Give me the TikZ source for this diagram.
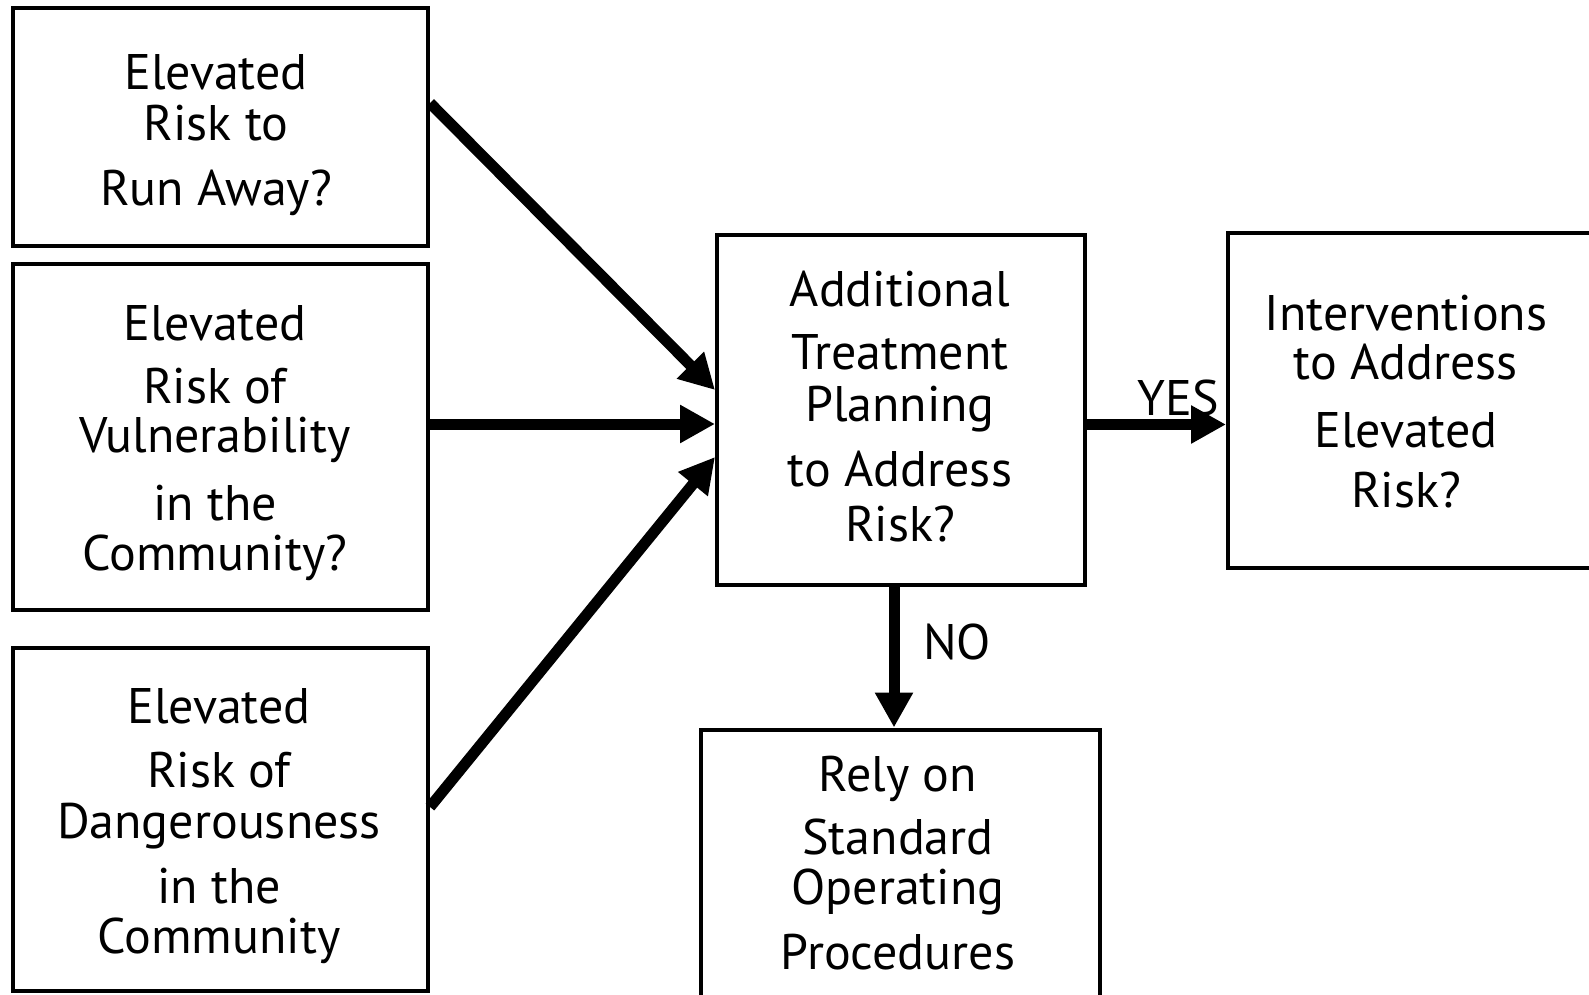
\documentclass[tikz,border=0pt]{standalone}
\usepackage{fontspec}
\setmainfont{PT Sans}
\usetikzlibrary{arrows.meta}
\newcommand{\boxfont}{\fontsize{50}{49}\selectfont\lineskiplimit=-100pt\relax}
\tikzset{
  boxshape/.style={draw=black, line width=4pt, inner sep=0pt, fill=none},
  boxtext/.style={anchor=north, inner sep=0pt, align=center, font=\boxfont},
  lbl/.style={anchor=base, inner sep=0pt, font=\fontsize{50}{49}\selectfont},
  arr/.style={line width=11pt, -{Triangle[length=35pt,width=36pt]}}
}
\newcommand{\fl}{\rule{0pt}{40pt}}
\begin{document}
\begin{tikzpicture}[x=1pt,y=-1pt]
\useasboundingbox (0,0) rectangle (1589,995);
\fill[white] (0,0) rectangle (1589,995);
\clip (0,0) rectangle (1589,995);

% boxes (line-centre dimensions)
\node[boxshape, minimum width=415pt, minimum height=237pt] (b1) at (220.5,127) {};
\node[boxshape, minimum width=415pt, minimum height=346pt] (b2) at (220.5,437) {};
\node[boxshape, minimum width=415pt, minimum height=343pt] (b3) at (220.5,819.5) {};
\node[boxshape, minimum width=368pt, minimum height=350pt] (c) at (901,409.5) {};
\node[boxshape, minimum width=400pt, minimum height=335pt] (r) at (1428,400) {};
\node[boxshape, minimum width=399pt, minimum height=300pt] (s) at (900,879.5) {};

% texts
\node[boxtext] (b1t) at (216,49) {\fl Elevated\\[2pt]Risk to\\[16pt]Run Away?};
\node[boxtext] (b2t) at (215,300) {\fl Elevated\\[14pt]Risk of\\[0pt]Vulnerability\\[19pt]in the\\[1pt]Community?};
\node[boxtext] (b3t) at (219,683) {\fl Elevated\\[15pt]Risk of\\[2pt]Dangerousness\\[16pt]in the\\[1pt]Community};
\node[boxtext] (ct) at (900,266) {\fl Additional\\[14pt]Treatment\\[3pt]Planning\\[16pt]to Address\\[6pt]Risk?};
\node[boxtext] (rt) at (1406,290) {\fl Interventions\\[0pt]to Address\\[19pt]Elevated\\[11pt]Risk?};
\node[boxtext] (st) at (898,751) {\fl Rely on\\[14pt]Standard\\[1pt]Operating\\[16pt]Procedures};

% connectors
\draw[arr] ([yshift=24pt]b1.east) -- ([yshift=19.5pt]c.west);
\draw[arr] ([yshift=13pt]b2.east) -- ([yshift=-14.5pt]c.west);
\draw[arr] ([yshift=12.5pt]b3.east) -- ([yshift=-47.5pt]c.west);
\draw[arr] ([yshift=-15pt]c.east) coordinate (ya) -- (r.west |- ya);
\draw[arr] ([xshift=-7pt]c.south) coordinate (na) -- (s.north -| na);

% labels
\node[lbl] (yes) at (1178,415) {YES};
\node[lbl] (no) at (957,659) {NO};
\end{tikzpicture}
\end{document}
